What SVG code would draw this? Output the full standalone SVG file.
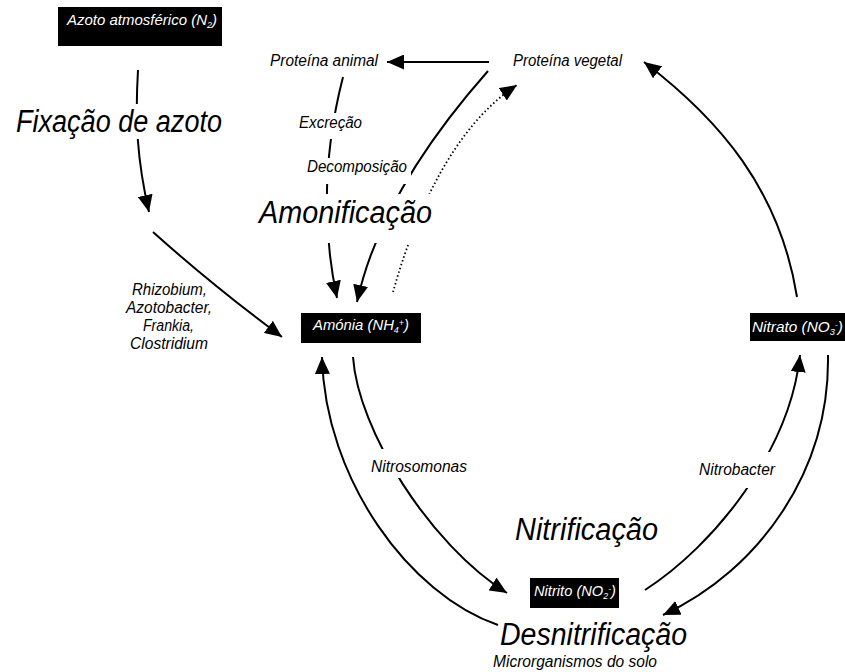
<svg xmlns="http://www.w3.org/2000/svg" width="845" height="672" viewBox="0 0 845 672">
<style>
text{font-family:"Liberation Sans",Arial,sans-serif;font-style:italic;fill:#000}
.s{font-size:16px}
.b{font-size:15px;fill:#fff}
.big{font-size:31px}
.box{fill:#000}
.gap{fill:#fff}
.c{fill:none;stroke:#000;stroke-width:2}
.d{fill:none;stroke:#000;stroke-width:1.8;stroke-dasharray:1.5 2.5}
.sub{font-size:9px}
</style>
<defs>
<marker id="ah" markerUnits="userSpaceOnUse" markerWidth="18" markerHeight="15" refX="17" refY="7.5" orient="auto">
<path d="M0,0 L17,7.5 L0,15 Z" fill="#000"/>
</marker>
</defs>
<g id="connectors">
<path class="c" d="M138,70 C135,120 137,160 149,212" marker-end="url(#ah)"/>
<path class="c" d="M153,232 Q212,285 282,337" marker-end="url(#ah)"/>
<path class="c" d="M489,62 L387,62" marker-end="url(#ah)"/>
<path class="c" d="M343,77 Q314,190 337,298" marker-end="url(#ah)"/>
<path class="c" d="M488,71 Q381,192 357,302" marker-end="url(#ah)"/>
<path class="d" d="M393,292 C405,250 440,135 517,85" marker-end="url(#ah)"/>
<path class="c" d="M797,297 C780,190 720,120 644,62" marker-end="url(#ah)"/>
<path class="c" d="M645,590 C715,545 790,450 800,355" marker-end="url(#ah)"/>
<path class="c" d="M828,355 C830,470 760,570 663,615" marker-end="url(#ah)"/>
<path class="c" d="M353,357 C358,430 430,545 507,593" marker-end="url(#ah)"/>
<path class="c" d="M498,625 C410,595 325,480 322,357" marker-end="url(#ah)"/>
</g>
<g id="azoto">
<rect class="box" x="58" y="7" width="164" height="39"/>
<text class="b" x="67" y="25" textLength="150" lengthAdjust="spacingAndGlyphs">Azoto atmosférico (N<tspan class="sub" dy="3">2</tspan><tspan dy="-3">)</tspan></text>
</g>
<g id="proteina-animal">
<text class="s" x="270" y="66" textLength="108" lengthAdjust="spacingAndGlyphs">Proteína animal</text>
</g>
<g id="proteina-vegetal">
<text class="s" x="513" y="66" textLength="109" lengthAdjust="spacingAndGlyphs">Proteína vegetal</text>
</g>
<g id="amonia">
<rect class="box" x="301" y="313" width="120" height="30"/>
<text class="b" x="313" y="330" textLength="96" lengthAdjust="spacingAndGlyphs">Amónia (NH<tspan class="sub" dy="3">4</tspan><tspan class="sub" dy="-7">+</tspan><tspan dy="4">)</tspan></text>
</g>
<g id="nitrato">
<rect class="box" x="750" y="313" width="95" height="28"/>
<text class="b" x="752" y="332" textLength="91" lengthAdjust="spacingAndGlyphs">Nitrato (NO<tspan class="sub" dy="3">3</tspan><tspan class="sub" dy="-7">-</tspan><tspan dy="4">)</tspan></text>
</g>
<g id="nitrito">
<rect class="box" x="530" y="578" width="89" height="30"/>
<text class="b" x="534" y="596" textLength="82" lengthAdjust="spacingAndGlyphs">Nitrito (NO<tspan class="sub" dy="3">2</tspan><tspan class="sub" dy="-7">-</tspan><tspan dy="4">)</tspan></text>
</g>
<g id="fixacao">
<rect class="gap" x="10" y="104" width="218" height="35"/>
<text class="big" x="16" y="132" textLength="206" lengthAdjust="spacingAndGlyphs">Fixação de azoto</text>
</g>
<g id="bacterias-fixadoras">
<text class="s" x="132" y="295" textLength="75" lengthAdjust="spacingAndGlyphs">Rhizobium,</text>
<text class="s" x="126" y="313" textLength="86" lengthAdjust="spacingAndGlyphs">Azotobacter,</text>
<text class="s" x="143" y="331" textLength="51" lengthAdjust="spacingAndGlyphs">Frankia,</text>
<text class="s" x="130" y="349" textLength="78" lengthAdjust="spacingAndGlyphs">Clostridium</text>
</g>
<g id="excrecao">
<rect class="gap" x="296" y="113" width="70" height="26"/>
<text class="s" x="299" y="128" textLength="63" lengthAdjust="spacingAndGlyphs">Excreção</text>
</g>
<g id="decomposicao">
<rect class="gap" x="303" y="158" width="108" height="26"/>
<text class="s" x="307" y="172" textLength="100" lengthAdjust="spacingAndGlyphs">Decomposição</text>
</g>
<g id="amonificacao">
<rect class="gap" x="255" y="194" width="181" height="49"/>
<text class="big" x="259" y="223" textLength="173" lengthAdjust="spacingAndGlyphs">Amonificação</text>
</g>
<g id="nitrosomonas">
<rect class="gap" x="368" y="449" width="102" height="29"/>
<text class="s" x="371" y="472" textLength="96" lengthAdjust="spacingAndGlyphs">Nitrosomonas</text>
</g>
<g id="nitrobacter">
<rect class="gap" x="696" y="452" width="82" height="36"/>
<text class="s" x="699" y="475" textLength="76" lengthAdjust="spacingAndGlyphs">Nitrobacter</text>
</g>
<g id="nitrificacao">
<text class="big" x="515" y="540" textLength="143" lengthAdjust="spacingAndGlyphs">Nitrificação</text>
</g>
<g id="desnitrificacao">
<text class="big" x="500" y="645" textLength="187" lengthAdjust="spacingAndGlyphs">Desnitrificação</text>
<text class="s" x="493" y="667" font-size="15" textLength="164" lengthAdjust="spacingAndGlyphs">Microrganismos do solo</text>
</g>
</svg>
